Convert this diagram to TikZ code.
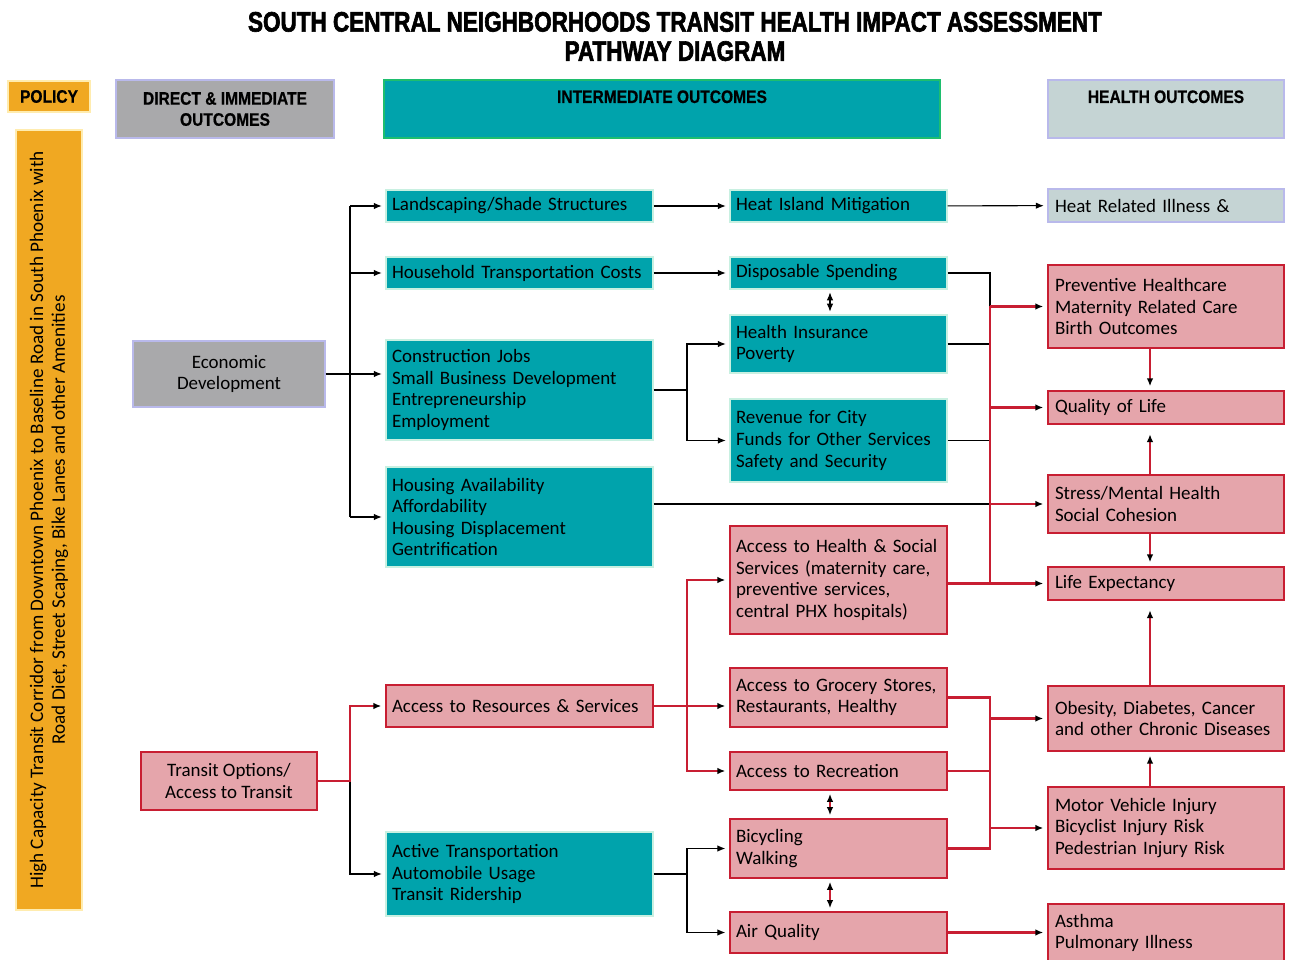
\documentclass[tikz,border=0pt]{standalone}
\usepackage{fontspec}
\setmainfont{Carlito}
\newfontfamily\headfont[FakeStretch=0.86, FakeBold=0.6]{Liberation Sans}
\newfontfamily\titlefont[FakeStretch=0.8, FakeBold=2.2]{Liberation Sans}
\usepackage{tikz}
\usetikzlibrary{arrows.meta, positioning}
\definecolor{tealfill}{RGB}{0, 163, 172}
\definecolor{tealrim}{RGB}{200, 240, 225}
\definecolor{tealhead}{RGB}{30, 190, 110}
\definecolor{pinkfill}{RGB}{229, 165, 171}
\definecolor{redrim}{RGB}{200, 30, 50}
\definecolor{grayfill}{RGB}{169, 169, 171}
\definecolor{lavrim}{RGB}{185, 185, 235}
\definecolor{policyfill}{RGB}{240, 168, 34}
\definecolor{policyrim}{RGB}{255, 236, 175}
\definecolor{heatfill}{RGB}{197, 212, 212}
\newcommand{\boxfont}{\fontsize{10.8}{12.3}\selectfont}

\begin{document}
\begin{tikzpicture}[
    tbox/.style={rectangle, draw=tealrim, fill=tealfill, line width=0.8pt, align=left, inner sep=0pt, font=\boxfont},
    pbox/.style={rectangle, draw=redrim, fill=pinkfill, line width=1.3pt, align=left, inner sep=0pt, font=\boxfont},
    gbox/.style={rectangle, draw=lavrim, fill=grayfill, line width=0.8pt, align=center, inner sep=0pt, font=\boxfont},
    hdr/.style={rectangle, line width=0.8pt, align=center, inner sep=0pt, font=\headfont\bfseries\fontsize{10.3}{12}\selectfont},
    colA/.style={text width=5.10cm, minimum width=5.34cm},
    colB/.style={text width=4.10cm, minimum width=4.34cm},
    colC/.style={text width=4.44cm, minimum width=4.72cm},
    line/.style={draw=black, line width=0.6pt},
    redline/.style={draw=redrim, line width=1.4pt},
    arrow/.style={->, shorten >=2pt},
    both/.style={<->, shorten >=1.5pt, shorten <=1.5pt},
    >={Latex[length=1.6mm, width=1.3mm, color=black]}
]
    \useasboundingbox (0,0) rectangle (25.82,-19.2);

    % title and column heads
    \node[font=\titlefont\bfseries\fontsize{16}{16.6}\selectfont, align=center] (title) at (13.5,-0.73)
        {SOUTH CENTRAL NEIGHBORHOODS TRANSIT HEALTH IMPACT ASSESSMENT\\PATHWAY DIAGRAM};
    \node[hdr, fill=policyfill, draw=policyrim, minimum width=1.64cm, minimum height=0.62cm] (policy) at (0.98,-1.93) {POLICY};
    \node[hdr, fill=grayfill, draw=lavrim, minimum width=4.36cm, minimum height=1.16cm] (direct) at (4.5,-2.18) {DIRECT \& IMMEDIATE\\OUTCOMES};
    \node[hdr, fill=tealfill, draw=tealhead, minimum width=11.12cm, text height=0.46cm, text depth=0.70cm] (inter) at (13.24,-2.18) {INTERMEDIATE OUTCOMES};
    \node[hdr, fill=heatfill, draw=lavrim, minimum width=4.72cm, text height=0.46cm, text depth=0.70cm] (health) at (23.32,-2.18) {HEALTH OUTCOMES};

    % policy bar
    \node[rectangle, fill=policyfill, draw=policyrim, line width=1pt, rotate=90, minimum width=15.6cm, minimum height=1.32cm,
          align=center, inner sep=0pt, font=\fontsize{10.9}{12.5}\selectfont] (corridor) at (0.98,-10.4)
        {High Capacity Transit Corridor from Downtown Phoenix to Baseline Road in South Phoenix with\\Road Diet, Street Scaping, Bike Lanes and other Amenities};

    % direct outcomes
    \node[gbox, minimum width=3.84cm, minimum height=1.32cm] (econ) at (4.58,-7.48) {Economic\\Development};
    \node[pbox, align=center, minimum width=3.52cm, minimum height=1.16cm] (transit) at (4.58,-15.62) {Transit Options/\\Access to Transit};

    % intermediate, first column
    \node[tbox, colA, minimum height=0.64cm] (land) at (10.39,-4.12) {Landscaping/Shade Structures};
    \node[tbox, colA, minimum height=0.64cm] (house) at (10.39,-5.46) {Household Transportation Costs};
    \node[tbox, colA, minimum height=2.0cm] (cons) at (10.39,-7.8) {Construction Jobs\\Small Business Development\\Entrepreneurship\\Employment};
    \node[tbox, colA, minimum height=2.0cm] (housing) at (10.39,-10.34) {Housing Availability\\Affordability\\Housing Displacement\\Gentrification};
    \node[pbox, colA, minimum height=0.84cm] (resour) at (10.39,-14.12) {Access to Resources \& Services};
    \node[tbox, colA, minimum height=1.68cm] (active) at (10.39,-17.48) {Active Transportation\\Automobile Usage\\Transit Ridership};

    % intermediate, second column
    \node[tbox, colB, minimum height=0.64cm] (heat) at (16.77,-4.12) {Heat Island Mitigation};
    \node[tbox, colB, minimum height=0.64cm] (disp) at (16.77,-5.46) {Disposable Spending};
    \node[tbox, colB, minimum height=1.16cm] (insur) at (16.77,-6.88) {Health Insurance\\Poverty};
    \node[tbox, colB, minimum height=1.66cm] (reven) at (16.77,-8.81) {Revenue for City\\Funds for Other Services\\Safety and Security};
    \node[pbox, colB, minimum height=2.16cm] (acchealth) at (16.77,-11.6) {Access to Health \& Social\\Services (maternity care,\\preventive services,\\central PHX hospitals)};
    \node[pbox, colB, minimum height=1.18cm] (grocery) at (16.77,-13.95) {Access to Grocery Stores,\\Restaurants, Healthy};
    \node[pbox, colB, minimum height=0.76cm] (recre) at (16.77,-15.42) {Access to Recreation};
    \node[pbox, colB, minimum height=1.18cm] (bike) at (16.77,-16.97) {Bicycling\\Walking};
    \node[pbox, colB, minimum height=0.82cm] (air) at (16.77,-18.65) {Air Quality};

    % health outcomes
    \node[tbox, colC, fill=heatfill, draw=lavrim, minimum height=0.66cm] (heatill) at (23.32,-4.11) {Heat Related Illness \&};
    \node[pbox, colC, minimum height=1.66cm] (prev) at (23.32,-6.13) {Preventive Healthcare\\Maternity Related Care\\Birth Outcomes};
    \node[pbox, colC, minimum height=0.66cm] (qol) at (23.32,-8.15) {Quality of Life};
    \node[pbox, colC, minimum height=1.16cm] (stress) at (23.32,-10.08) {Stress/Mental Health\\Social Cohesion};
    \node[pbox, colC, minimum height=0.66cm] (life) at (23.32,-11.67) {Life Expectancy};
    \node[pbox, colC, minimum height=1.30cm] (obes) at (23.32,-14.37) {Obesity, Diabetes, Cancer\\and other Chronic Diseases};
    \node[pbox, colC, minimum height=1.64cm] (motor) at (23.32,-16.56) {Motor Vehicle Injury\\Bicyclist Injury Risk\\Pedestrian Injury Risk};
    \node[pbox, colC, minimum height=1.16cm] (asthma) at (23.32,-18.66) {Asthma\\Pulmonary Illness};

    % trunk lines
    \coordinate (ta) at (7.0,0);
    \coordinate (tb) at (13.74,0);
    \coordinate (tc) at (19.8,0);
    \coordinate (dx) at (16.6,0);
    \coordinate (hx) at (23.0,0);

    % economic development branch
    \draw[line] (ta |- land.west) -- (ta |- housing.west);
    \draw[line, arrow] (econ.east) -- (econ.east -| cons.west);
    \draw[line, arrow] (ta |- land.west) -- (land.west);
    \draw[line, arrow] (ta |- house.west) -- (house.west);
    \draw[line, arrow] (ta |- housing.west) -- (housing.west);
    \draw[line, arrow] (land) -- (heat);
    \draw[line, arrow] (heat) -- (heatill);
    \draw[line, arrow] (house) -- (disp);
    \draw[line, both] (dx |- disp.south) -- (dx |- insur.north);
    \draw[line] (cons.east) -- (cons.east -| tb);
    \draw[line, arrow] (cons.east -| tb) |- (insur.west);
    \draw[line, arrow] (cons.east -| tb) |- (reven.west);
    \draw[line] (disp.east) -| (tc |- prev.west);
    \draw[line] (insur.east) -- (insur.east -| tc);
    \draw[line] (reven.east) -- (reven.east -| tc);
    \draw[line] (housing.east |- stress.west) -- (tc |- stress.west);

    % red trunk to health outcomes
    \draw[redline] (tc |- prev.west) -- (tc |- life.west);
    \draw[redline] (acchealth.east |- life.west) -- (tc |- life.west);
    \draw[redline, arrow] (tc |- prev.west) -- (prev.west);
    \draw[redline, arrow] (tc |- qol.west) -- (qol.west);
    \draw[redline, arrow] (tc |- stress.west) -- (stress.west);
    \draw[redline, arrow] (tc |- life.west) -- (life.west);

    % transit branch
    \draw[line, arrow] (transit.east -| ta) |- (active.west);
    \draw[redline, arrow] (transit.east) -- (transit.east -| ta) |- (resour.west);
    \draw[redline] (resour.east) -- (resour.east -| tb);
    \draw[redline, arrow] (resour.east -| tb) |- (acchealth.west);
    \draw[redline, arrow] (resour.east -| tb) |- (recre.west);
    \draw[redline, arrow] (resour.east) -- (resour.east -| grocery.west);
    \draw[line] (active.east) -- (active.east -| tb);
    \draw[line, arrow] (active.east -| tb) |- (bike.west);
    \draw[line, arrow] (active.east -| tb) |- (air.west);
    \draw[redline, both] (dx |- recre.south) -- (dx |- bike.north);
    \draw[redline, both] (dx |- bike.south) -- (dx |- air.north);
    \draw[redline] (grocery.east) -| (tc |- bike.east) -- (bike.east);
    \draw[redline] (recre.east) -- (recre.east -| tc);
    \draw[redline, arrow] (tc |- obes.west) -- (obes.west);
    \draw[redline, arrow] (tc |- motor.west) -- (motor.west);
    \draw[redline, arrow] (air.east) -- (air.east -| asthma.west);

    % links between health outcomes
    \draw[redline, arrow] (hx |- prev.south) -- (hx |- qol.north);
    \draw[redline, arrow, shorten >=0.18cm] (hx |- stress.north) -- (hx |- qol.south);
    \draw[redline, arrow] (hx |- stress.south) -- (hx |- life.north);
    \draw[redline, arrow, shorten >=0.18cm] (hx |- obes.north) -- (hx |- life.south);
    \draw[redline, arrow] (hx |- motor.north) -- (hx |- obes.south);
\end{tikzpicture}
\end{document}
